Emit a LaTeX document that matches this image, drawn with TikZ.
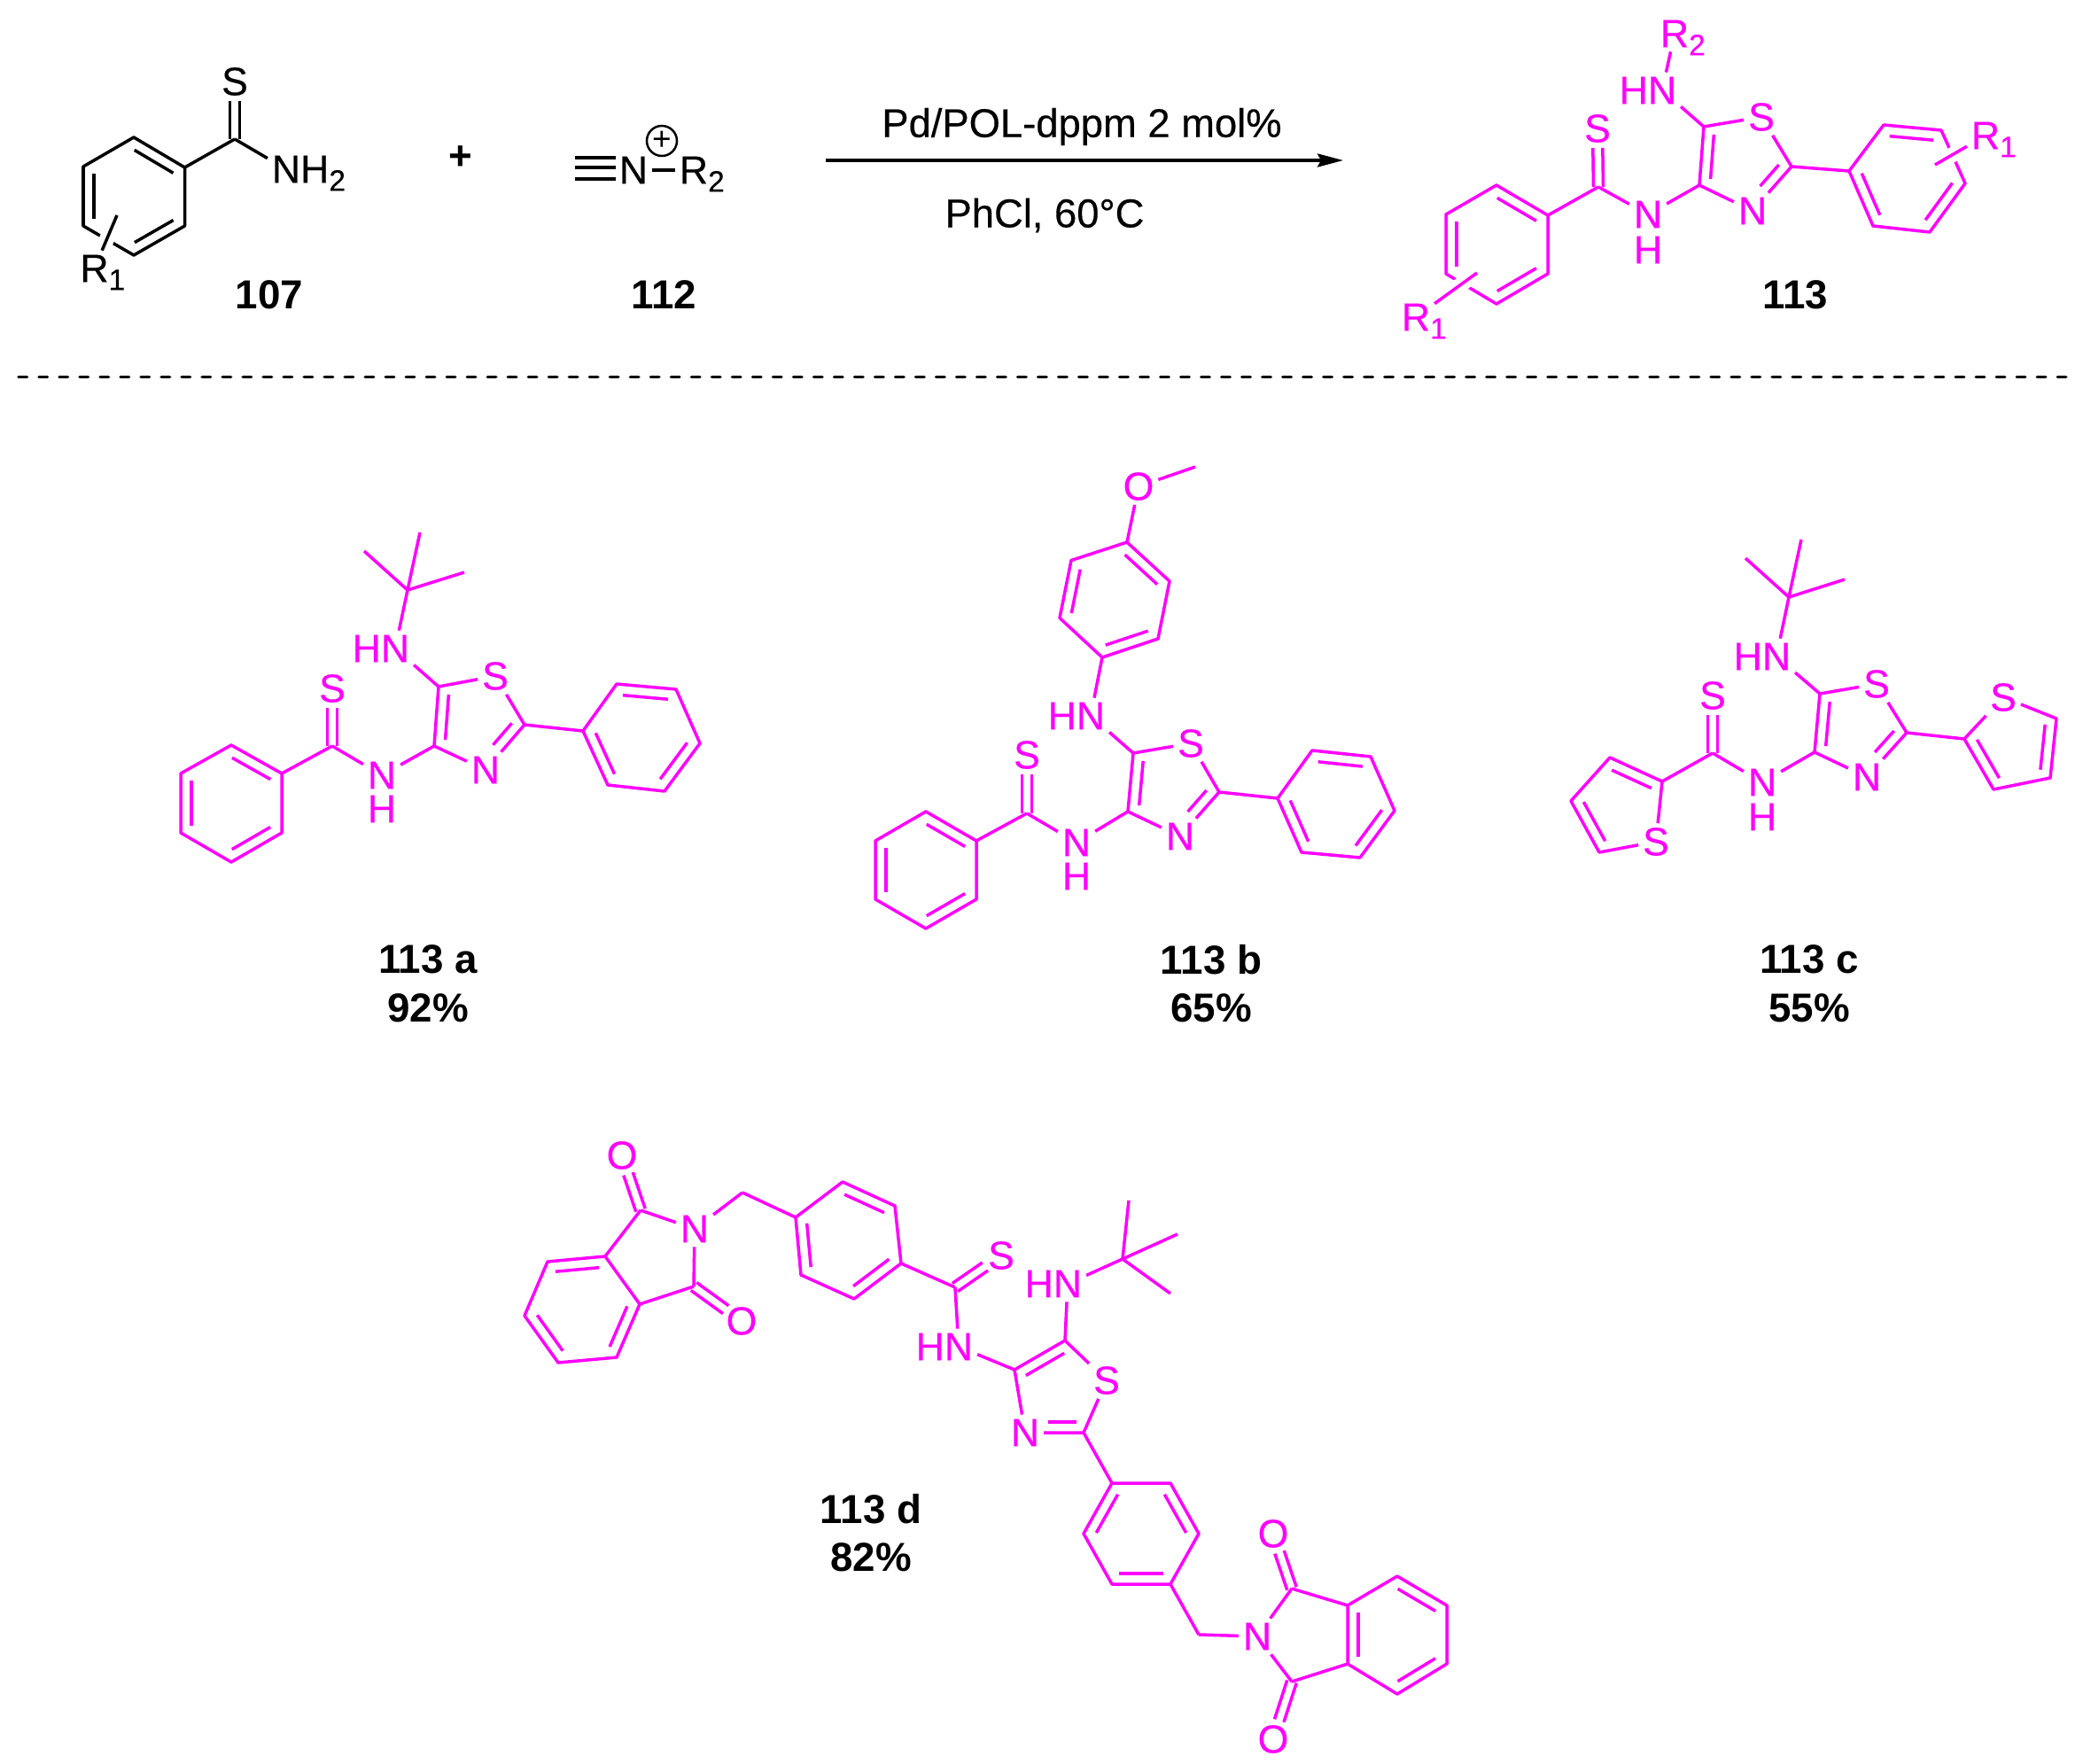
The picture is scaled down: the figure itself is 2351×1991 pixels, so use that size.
\documentclass[tikz,border=0pt]{standalone}
\usepackage{fontspec}
\setmainfont{Liberation Sans}
\newfontfamily\atomfont[FakeBold=0.35]{Liberation Sans}
\usetikzlibrary{arrows.meta,calc}
\definecolor{chem}{RGB}{255,0,255}
\tikzset{
  bond/.style={line width=.035cm,chem,line join=round},
  blackbond/.style={line width=.035cm,black,line join=round},
  crossbond/.style={line width=.035cm,preaction={draw,white,line width=.17cm}},
  atom/.style={text=chem,font=\atomfont\fontsize{12.7}{15}\selectfont,inner sep=.05cm,outer sep=0},
  blackatom/.style={atom,text=black},
  lab/.style={text=black,font=\fontsize{13}{15}\selectfont\bfseries,inner sep=0},
  cond/.style={text=black,font=\atomfont\fontsize{12.9}{15}\selectfont,inner sep=0}
}
\newcommand{\lowidx}[1]{\rlap{\smash{\raisebox{-.09cm}{\fontsize{9.5}{10}\selectfont #1}}}}
% inner line of a double bond, on the right of a->b
\newcommand{\inbond}[3][.88]{\draw[bond] ($(#2)!.12!(#3)!.12cm!-90:(#3)$) -- ($(#2)!#1!(#3)!.12cm!-90:(#3)$);}
\newcommand{\twin}[3][bond]{
  \draw[#1,shorten >=.22cm] ($(#2)!.055cm!90:(#3)$) -- ($(#3)!.055cm!-90:(#2)$);
  \draw[#1,shorten >=.22cm] ($(#2)!.055cm!-90:(#3)$) -- ($(#3)!.055cm!90:(#2)$);
}
% thioamide + thiazole, same numbering in every product
\newcommand{\coreunit}[1]{
  \twin{#17}{#1S1}
  \draw[bond] (#17) -- (#1N1) (#18) -- (#1N1) (#18) -- (#19) (#19) -- (#1S2) (#1S2) -- (#110)
    (#110) -- (#1N2) (#1N2) -- (#18) (#19) -- (#1N3);
  \inbond{#18}{#19}
  \inbond[.6]{#110}{#1N2}
}
\begin{document}
\begin{tikzpicture}[x=.01cm,y=-.01cm]
\useasboundingbox (0,0) rectangle (2351,1991);

% 107
\foreach \n/\x/\y in {t1/151/155,t2/208.5/189,t3/208.5/255,t4/151/288,t5/94/255,t6/94/188,t7/265/157,t8/132/243}
  \coordinate (\n) at (\x,\y);
\node[blackatom] (tS) at (265,92) {S};
\node[blackatom] (tN) at (323,191) {N\rlap{H\lowidx{2}}};
\node[blackatom] (tR) at (106.5,303) {R\lowidx{1}};
\draw[blackbond] (t1) -- (t2) -- (t3) -- (t4) -- (t5) -- (t6) -- cycle;
\draw[blackbond] (t2) -- (t7) (t7) -- (tN);
\twin[blackbond]{t7}{tS}
\draw[blackbond,crossbond] (t8) -- (tR);
\begin{scope}[bond/.style={blackbond}]
\inbond{t1}{t2}
\inbond{t3}{t4}
\inbond{t5}{t6}
\end{scope}
\node[lab] (l107) at (304,333) {107};
\node[lab] (lplus) at (520,178) {+};

% 112
\coordinate (y1) at (649,178);
\coordinate (y2) at (695,178);
\coordinate (y3) at (649,189);
\coordinate (y4) at (695,189);
\coordinate (y5) at (649,202);
\coordinate (y6) at (695,202);
\node[blackatom] (yN) at (715,192) {N};
\node[blackatom] (yR) at (783,192) {R\lowidx{2}};
\node[draw,circle,line width=.025cm,minimum size=.34cm,inner sep=0,font=\fontsize{10.5}{11}\selectfont] (yC) at (747,159) {+};
\draw[blackbond] (y1) -- (y2) (y3) -- (y4) (y5) -- (y6) (yN) -- (yR);
\node[lab] (l112) at (749,333) {112};

% arrow
\coordinate (w1) at (932,181);
\coordinate (w2) at (1516,181);
\draw[blackbond,-{Stealth[length=.29cm,width=.15cm,inset=.04cm]}] (w1) -- (w2);
\node[cond] (c1) at (1221,143) {Pd/POL-dppm 2 mol\%};
\node[cond] (c2) at (1179,243) {PhCl, 60°C};

% 113
\foreach \n/\x/\y in {p1/1689/209,p2/1747/243,p3/1747/309,p4/1689/343,p5/1632/309,p6/1632/242,p7/1804/211,p8/1918/209,p9/1923/143,
  p10/2022/188,p11/2087/193,p12/2126/141,p13/2191/147,p14/2218/207,p15/2178/262,p16/2114/255,p17/1667/308,p18/2184/186}
  \coordinate (\n) at (\x,\y);
\node[atom] (pS1) at (1803,145) {S};
\node[atom] (pN1) at (1860,242) {N};
\node[atom] (pH1) at (1860,282) {H};
\node[atom] (pS2) at (1988,132) {S};
\node[atom] (pN2) at (1978,238) {N};
\node[atom] (pN3) at (1876,102) {\llap{H}N};
\node[atom] (pR2) at (1890,38) {R\lowidx{2}};
\node[atom] (pR1) at (1598,358) {R\lowidx{1}};
\node[atom] (pR3) at (2241,153) {R\lowidx{1}};
\draw[bond] (p1) -- (p2) -- (p3) -- (p4) -- (p5) -- (p6) -- cycle;
\draw[bond] (p11) -- (p12) -- (p13) -- (p14) -- (p15) -- (p16) -- cycle;
\draw[bond] (p2) -- (p7) (p10) -- (p11) (pN3) -- (pR2);
\coreunit{p}
\foreach \p/\q in {p1/p2,p3/p4,p5/p6,p12/p13,p14/p15,p16/p11} {\inbond{\p}{\q}}
\draw[bond,crossbond] (p17) -- (pR1);
\draw[bond,crossbond] (p18) -- (pR3);
\node[lab] (l113) at (2026,333) {113};

% dashed rule
\coordinate (h1) at (21,425.5);
\coordinate (h2) at (2333,425.5);
\draw[line width=.035cm,line cap=round,dash pattern=on .095cm off .135cm] (h1) -- (h2);

% 113 a
\foreach \n/\x/\y in {a1/261/841,a2/318/873,a3/318/940,a4/261/973,a5/204/940,a6/204/873,a7/375/842,a8/490/842,a9/495/775,
  a10/592/818,a11/658/825,a12/696/772,a13/763/778,a14/790/839,a15/750/893,a16/686/886,a17/460/666,a18/411/622,a19/474/601,a20/524/646}
  \coordinate (\n) at (\x,\y);
\node[atom] (aS1) at (375,777) {S};
\node[atom] (aN1) at (431,875) {N};
\node[atom] (aH1) at (431,913) {H};
\node[atom] (aS2) at (559,763) {S};
\node[atom] (aN2) at (548,869) {N};
\node[atom] (aN3) at (446,732) {\llap{H}N};
\draw[bond] (a1) -- (a2) -- (a3) -- (a4) -- (a5) -- (a6) -- cycle;
\draw[bond] (a11) -- (a12) -- (a13) -- (a14) -- (a15) -- (a16) -- cycle;
\draw[bond] (a2) -- (a7) (a10) -- (a11) (aN3) -- (a17) (a17) -- (a18) (a17) -- (a19) (a17) -- (a20);
\coreunit{a}
\foreach \p/\q in {a1/a2,a3/a4,a5/a6,a12/a13,a14/a15,a16/a11} {\inbond{\p}{\q}}
\node[lab] (la1) at (483,1083) {113 a};
\node[lab] (la2) at (483,1138) {92\%};

% 113 b
\foreach \n/\x/\y in {b1/1045/916,b2/1102/949,b3/1102/1015,b4/1045/1048,b5/988/1015,b6/988/949,b7/1159/918,b8/1273/916,b9/1279/850,
  b10/1376/894,b11/1442/901,b12/1481/847,b13/1547/854,b14/1574/915,b15/1535/968,b16/1469/962,
  b17/1244/742,b18/1196/697.5,b19/1209/632.5,b20/1272/612,b21/1320/656,b22/1307/721,b23/1349/527}
  \coordinate (\n) at (\x,\y);
\node[atom] (bS1) at (1159,852) {S};
\node[atom] (bN1) at (1215,951) {N};
\node[atom] (bH1) at (1215,989) {H};
\node[atom] (bS2) at (1344,839) {S};
\node[atom] (bN2) at (1332,944) {N};
\node[atom] (bN3) at (1231,808) {\llap{H}N};
\node[atom] (bO1) at (1285,549) {O};
\draw[bond] (b1) -- (b2) -- (b3) -- (b4) -- (b5) -- (b6) -- cycle;
\draw[bond] (b11) -- (b12) -- (b13) -- (b14) -- (b15) -- (b16) -- cycle;
\draw[bond] (b17) -- (b18) -- (b19) -- (b20) -- (b21) -- (b22) -- cycle;
\draw[bond] (b2) -- (b7) (b10) -- (b11) (bN3) -- (b17) (b20) -- (bO1) (bO1) -- (b23);
\coreunit{b}
\foreach \p/\q in {b1/b2,b3/b4,b5/b6,b12/b13,b14/b15,b16/b11,b18/b19,b20/b21,b22/b17} {\inbond{\p}{\q}}
\node[lab] (lb1) at (1367,1083) {113 b};
\node[lab] (lb2) at (1367,1138) {65\%};

% 113 c
\foreach \n/\x/\y in {c3/1876/882,c4/1817/855,c5/1773/904,c6/1805/962,c7/1933/850,c8/2048/849,c9/2054/783,
  c10/2152/827,c11/2217/834,c12/2321/811,c13/2314/878,c14/2250/891,c17/2019/674,c18/1970/630,c19/2033/609,c20/2082/654}
  \coordinate (\n) at (\x,\y);
\node[atom] (cS3) at (1869,950) {S};
\node[atom] (cS1) at (1933,785) {S};
\node[atom] (cN1) at (1989,883) {N};
\node[atom] (cH1) at (1989,922) {H};
\node[atom] (cS2) at (2118,772) {S};
\node[atom] (cN2) at (2107,877) {N};
\node[atom] (cS4) at (2261,787) {S};
\node[atom] (cN3) at (2005,741) {\llap{H}N};
\draw[bond] (cS3) -- (c3) -- (c4) -- (c5) -- (c6) -- (cS3);
\draw[bond] (cS4) -- (c12) -- (c13) -- (c14) -- (c11) -- (cS4);
\draw[bond] (c3) -- (c7) (c10) -- (c11) (cN3) -- (c17) (c17) -- (c18) (c17) -- (c19) (c17) -- (c20);
\coreunit{c}
\foreach \p/\q in {c4/c3,c6/c5,c12/c13,c14/c11} {\inbond{\p}{\q}}
\node[lab] (lc1) at (2042,1083) {113 c};
\node[lab] (lc2) at (2042,1138) {55\%};

% 113 d
\foreach \n/\x/\y in {d7/1078/1453,d8/1145/1546,d9/1202/1513,d10/1223/1617,d17/1267/1421,d18/1274/1355,d19/1329/1393,d20/1321/1460,
  e1/683/1418,e2/722/1472,e3/696/1532,e4/630/1538,e5/592/1485,e6/618/1424,e7/723/1366,e8/783/1452,e9/838/1346,
  r1/898/1374,r2/951/1334,r3/1010/1361,r4/1017/1426,r5/964/1466,r6/904/1439,
  s1/1255/1674,s2/1321/1674,s3/1353/1731,s4/1321/1788,s5/1255/1788,s6/1223/1731,s7/1353/1845,
  g1/1521/1812,g2/1577/1779,g3/1633/1812,g4/1633/1878,g5/1577/1912,g6/1521/1878,g7/1458/1793,g8/1458/1898}
  \coordinate (\n) at (\x,\y);
\node[atom] (eO1) at (702,1304) {O};
\node[atom] (eO2) at (837,1491) {O};
\node[atom] (eN1) at (784,1387) {N};
\node[atom] (dS1) at (1130,1417) {S};
\node[atom] (dN1) at (1082,1520) {\llap{H}N};
\node[atom] (dS2) at (1249,1558) {S};
\node[atom] (dN2) at (1157,1617) {N};
\node[atom] (dN3) at (1205,1449) {\llap{H}N};
\node[atom] (gN1) at (1419,1847) {N};
\node[atom] (gO1) at (1437,1731) {O};
\node[atom] (gO2) at (1437,1963) {O};
\draw[bond] (e1) -- (e2) -- (e3) -- (e4) -- (e5) -- (e6) -- cycle;
\draw[bond] (r1) -- (r2) -- (r3) -- (r4) -- (r5) -- (r6) -- cycle;
\draw[bond] (s1) -- (s2) -- (s3) -- (s4) -- (s5) -- (s6) -- cycle;
\draw[bond] (g1) -- (g2) -- (g3) -- (g4) -- (g5) -- (g6) -- cycle;
\draw[bond] (e1) -- (e7) (e7) -- (eN1) (eN1) -- (e8) (e8) -- (e2) (eN1) -- (e9) (e9) -- (r1) (r4) -- (d7);
\draw[bond] (dN3) -- (d17) (d17) -- (d18) (d17) -- (d19) (d17) -- (d20) (d10) -- (s1) (s4) -- (s7) (s7) -- (gN1);
\draw[bond] (gN1) -- (g7) (g7) -- (g1) (gN1) -- (g8) (g8) -- (g6);
\coreunit{d}
\twin{e7}{eO1}
\twin{e8}{eO2}
\twin{g7}{gO1}
\twin{g8}{gO2}
\foreach \p/\q in {e6/e1,e4/e5,e2/e3,r2/r3,r4/r5,r6/r1,s2/s3,s4/s5,s6/s1,g2/g3,g4/g5,g6/g1} {\inbond{\p}{\q}}
\node[lab] (ld1) at (983,1703) {113 d};
\node[lab] (ld2) at (983,1758) {82\%};
\end{tikzpicture}
\end{document}
